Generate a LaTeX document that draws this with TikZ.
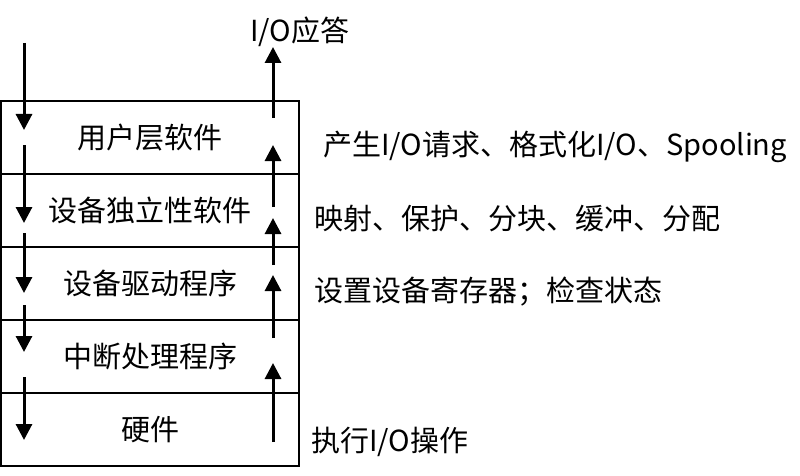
\documentclass[tikz,border=0pt]{standalone}
\usepackage{fontspec}
\setmainfont{Noto Sans CJK SC}
\usetikzlibrary{positioning, arrows.meta}
\tikzset{
>={Triangle[length=16pt,width=16pt]}, % filled arrow heads
layer/.style={draw=black, line width=1.3pt, outer sep=0pt, inner sep=0pt, minimum width=298pt, minimum height=73pt, font=\fontsize{29}{34}\selectfont}, % one level of the stack
desc/.style={anchor=west, inner sep=0pt, font=\fontsize{29}{34}\selectfont}, % text beside a level
}
\tikzset{
  flow/.style={->, line width=3pt}
}

\begin{document}
\begin{tikzpicture}[x=1pt, y=-1pt]
      \useasboundingbox (0,0) rectangle (800,476);
      \node[layer, anchor=north west] (user) at (1,101) {用户层软件};
      \node[layer, below=0pt of user] (indep) {设备独立性软件};
      \node[layer, below=0pt of indep] (driver) {设备驱动程序};
      \node[layer, below=0pt of driver] (intr) {中断处理程序};
      \node[layer, below=0pt of intr] (hw) {硬件};

      \node[desc, right=24pt of user.east, yshift=-9pt] (userdesc) {产生I/O请求、格式化I/O、Spooling};
      \node[desc, right=15pt of indep.east, yshift=-8pt] (indepdesc) {映射、保护、分块、缓冲、分配};
      \node[desc, right=15pt of driver.east, yshift=-8pt] (driverdesc) {设置设备寄存器；检查状态};
      \node[desc, right=12pt of hw.east, yshift=-12pt] (hwdesc) {执行I/O操作};

      % request going down
      \coordinate (d1) at (24,43);  \coordinate (d2) at (24,130);
      \coordinate (d3) at (24,145); \coordinate (d4) at (24,223);
      \coordinate (d5) at (24,233); \coordinate (d6) at (24,293);
      \coordinate (d7) at (24,305); \coordinate (d8) at (24,352);
      \coordinate (d9) at (24,377); \coordinate (d10) at (24,440);
      % answer going up
      \coordinate (u1) at (273,442); \coordinate (u2) at (273,363);
      \coordinate (u3) at (273,338); \coordinate (u4) at (273,275);
      \coordinate (u5) at (273,265); \coordinate (u6) at (273,218);
      \coordinate (u7) at (273,207); \coordinate (u8) at (273,145);
      \coordinate (u9) at (273,118); \coordinate (u10) at (273,47);

      \node[desc] (reply) at (250,32) {I/O应答};

      \draw (d1) edge[flow] (d2)
      (d3) edge[flow] (d4)
      (d5) edge[flow] (d6)
      (d7) edge[flow] (d8)
      (d9) edge[flow] (d10)
      (u1) edge[flow] (u2)
      (u3) edge[flow] (u4)
      (u5) edge[flow] (u6)
      (u7) edge[flow] (u8)
      (u9) edge[flow] (u10);
\end{tikzpicture}
\end{document}
